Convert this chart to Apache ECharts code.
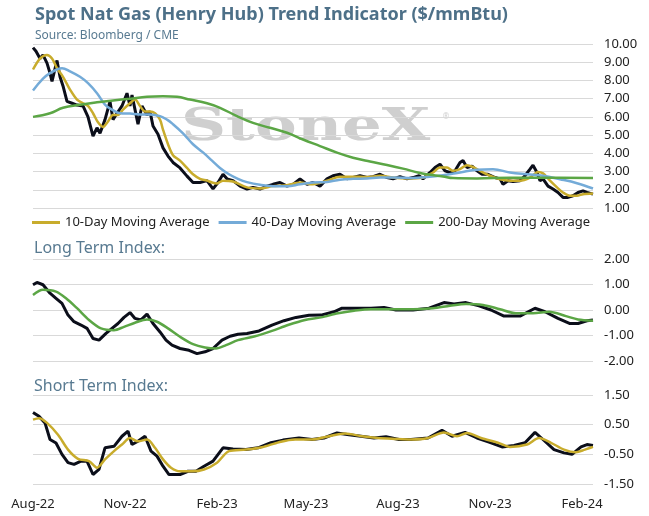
<!DOCTYPE html>
<html>
<head>
<meta charset="utf-8">
<title>Spot Nat Gas Trend Indicator</title>
<script src="https://cdn.jsdelivr.net/npm/echarts@6.0.0/dist/echarts.min.js"></script>
<style>
  html, body { margin: 0; padding: 0; background: #fff; }
  #chart { width: 649px; height: 516px; }
</style>
</head>
<body>
<div id="chart"></div>
<script>
// Day offsets are counted from 1 Aug 2022.
const START = new Date(2022, 7, 1).getTime();
const DAY = 86400000;
const END_DAY = 560;

const MONTHS = ['Jan', 'Feb', 'Mar', 'Apr', 'May', 'Jun', 'Jul', 'Aug', 'Sep', 'Oct', 'Nov', 'Dec'];
const xTickDates = [[2022, 7], [2022, 10], [2023, 1], [2023, 4], [2023, 7], [2023, 10], [2024, 1]];

// --- Top panel: spot price and moving averages ($/mmBtu)
const spotDays = [0, 3, 7, 10, 14, 17, 19, 24, 27, 30, 34, 39, 44, 50, 55, 60, 64, 67, 72, 77, 80, 84, 89, 94, 97, 99,
  102, 105, 109, 114, 117, 120, 125, 130, 135, 140, 147, 154, 160, 167, 174, 180, 185, 190, 194, 200, 207, 214, 220,
  227, 234, 240, 247, 254, 260, 267, 274, 280, 287, 294, 300, 307, 314, 320, 327, 334, 340, 347, 354, 360, 367, 374,
  380, 386, 390, 397, 402, 407, 412, 417, 422, 427, 430, 434, 439, 444, 449, 455, 462, 467, 470, 475, 480, 487, 492,
  497, 500, 504, 507, 510, 515, 520, 525, 530, 535, 540, 545, 550, 554, 560];
const spotVals = [9.8, 9.6, 9.2, 9.4, 8.95, 8.4, 7.95, 9.1, 8.2, 7.7, 6.85, 6.75, 6.65, 6.6, 6.0, 4.95, 5.4, 5.1, 5.85,
  6.85, 5.85, 6.2, 6.6, 7.3, 6.6, 7.2, 6.4, 5.6, 6.6, 6.1, 6.3, 5.5, 5.05, 4.3, 3.85, 3.5, 3.2, 2.75, 2.4, 2.4, 2.5,
  2.05, 2.4, 2.85, 2.6, 2.5, 2.2, 2.04, 2.13, 2.04, 2.2, 2.3, 2.4, 2.2, 2.3, 2.6, 2.3, 2.4, 2.2, 2.6, 2.77, 2.85, 2.6,
  2.67, 2.77, 2.67, 2.72, 2.85, 2.67, 2.6, 2.72, 2.6, 2.67, 2.77, 2.6, 2.95, 3.22, 3.4, 3.04, 2.95, 3.04, 3.5, 3.6,
  3.22, 3.3, 3.04, 2.85, 2.85, 2.67, 2.6, 2.3, 2.5, 2.45, 2.5, 2.77, 3.13, 3.35, 2.95, 2.5, 2.6, 2.2, 2.04, 1.85, 1.58,
  1.58, 1.67, 1.85, 1.94, 1.85, 1.76];

const ma10Days = [0, 7, 14, 19, 24, 30, 37, 44, 50, 55, 60, 65, 70, 75, 80, 85, 90, 97, 102, 107, 112, 117, 122, 127,
  130, 135, 140, 147, 154, 160, 167, 174, 179, 184, 190, 200, 214, 227, 240, 254, 267, 280, 294, 307, 320, 334, 347,
  360, 374, 390, 400, 407, 414, 420, 427, 434, 440, 447, 457, 467, 477, 487, 497, 505, 510, 517, 524, 530, 537, 544,
  550, 560];
const ma10Vals = [8.6, 9.2, 9.4, 9.2, 8.67, 8.2, 7.5, 6.95, 6.75, 6.6, 6.2, 5.7, 5.45, 5.75, 6.1, 6.1, 6.4, 6.75, 6.95,
  6.6, 6.3, 6.3, 6.2, 5.85, 5.3, 4.5, 3.9, 3.6, 3.2, 2.85, 2.6, 2.5, 2.4, 2.35, 2.5, 2.45, 2.13, 2.07, 2.2, 2.25, 2.4,
  2.3, 2.5, 2.72, 2.72, 2.7, 2.77, 2.67, 2.62, 2.67, 2.95, 3.22, 3.22, 3.04, 3.13, 3.35, 3.25, 3.04, 2.77, 2.58, 2.5,
  2.5, 2.67, 2.98, 2.9, 2.5, 2.13, 1.85, 1.67, 1.67, 1.76, 1.8];

const ma40Days = [0, 10, 17, 24, 29, 37, 47, 55, 64, 72, 79, 87, 97, 107, 117, 127, 134, 140, 150, 160, 170, 179, 187,
  196, 205, 214, 227, 240, 254, 267, 280, 294, 307, 320, 334, 347, 360, 380, 394, 410, 427, 444, 460, 477, 494, 510,
  527, 544, 560];
const ma40Vals = [7.45, 8.1, 8.4, 8.6, 8.67, 8.5, 8.2, 7.85, 7.3, 6.67, 6.4, 6.2, 6.18, 6.13, 6.13, 6.04, 5.85, 5.6,
  5.1, 4.5, 4.05, 3.6, 3.2, 2.85, 2.6, 2.42, 2.27, 2.2, 2.2, 2.3, 2.4, 2.43, 2.55, 2.6, 2.62, 2.67, 2.67, 2.65, 2.7,
  2.8, 2.95, 3.1, 3.13, 2.95, 2.85, 2.77, 2.58, 2.36, 2.07];

const ma200Days = [0, 17, 30, 47, 64, 80, 97, 114, 130, 144, 157, 174, 187, 204, 220, 237, 254, 270, 287, 304, 320, 337,
  354, 370, 386, 394, 410, 420, 444, 477, 510, 560];
const ma200Vals = [6.0, 6.2, 6.5, 6.67, 6.8, 6.9, 7.0, 7.1, 7.13, 7.1, 6.95, 6.75, 6.5, 6.04, 5.67, 5.4, 5.13, 4.76,
  4.4, 4.04, 3.76, 3.55, 3.36, 3.16, 2.93, 2.85, 2.73, 2.64, 2.62, 2.66, 2.66, 2.64];

// --- Middle panel: long term index
const ltDays = [0, 4, 10, 17, 23, 29, 35, 41, 48, 54, 60, 66, 73, 79, 85, 91, 97, 102, 108, 114, 120, 127, 133, 139,
  147, 156, 164, 172, 180, 189, 197, 205, 214, 226, 239, 251, 263, 276, 288, 301, 309, 321, 338, 351, 363, 380, 396,
  411, 421, 433, 446, 458, 471, 487, 502, 512, 525, 537, 545, 554, 560];
const ltVals = [0.99, 1.08, 0.99, 0.66, 0.46, 0.26, -0.2, -0.46, -0.59, -0.72, -1.12, -1.18, -0.92, -0.72, -0.53,
  -0.29, -0.1, -0.33, -0.39, -0.16, -0.53, -0.86, -1.18, -1.38, -1.51, -1.58, -1.71, -1.64, -1.51, -1.18, -1.03, -0.95,
  -0.92, -0.82, -0.59, -0.42, -0.29, -0.21, -0.2, -0.07, 0.07, 0.07, 0.07, 0.1, 0, 0, 0.07, 0.29, 0.24, 0.29, 0.16, 0,
  -0.24, -0.24, 0.07, -0.07, -0.33, -0.53, -0.53, -0.42, -0.39];
const ltAvgDays = [0, 10, 23, 33, 44, 56, 68, 81, 91, 102, 114, 124, 135, 147, 160, 172, 183, 193, 205, 222, 239, 255,
  272, 288, 305, 321, 338, 359, 380, 400, 417, 433, 450, 467, 483, 500, 516, 533, 545, 560];
const ltAvgVals = [0.59, 0.79, 0.72, 0.46, 0.07, -0.39, -0.72, -0.79, -0.66, -0.5, -0.37, -0.46, -0.72, -1.05, -1.34,
  -1.47, -1.51, -1.38, -1.18, -1.03, -0.82, -0.59, -0.39, -0.29, -0.13, -0.03, 0.03, 0.03, 0.03, 0.07, 0.17, 0.24, 0.2,
  0.03, -0.13, -0.13, -0.07, -0.24, -0.37, -0.42];

// --- Bottom panel: short term index
const stDays = [0, 6, 12, 17, 23, 29, 35, 41, 48, 54, 60, 66, 72, 81, 89, 95, 99, 105, 112, 118, 124, 130, 136, 147,
  155, 163, 171, 180, 190, 200, 213, 225, 238, 250, 266, 279, 291, 304, 316, 328, 341, 353, 366, 378, 395, 409, 419,
  432, 444, 456, 469, 481, 492, 502, 510, 521, 531, 539, 548, 554, 560];
const stVals = [0.91, 0.78, 0.56, 0.0, -0.12, -0.5, -0.78, -0.84, -0.73, -0.73, -1.18, -1.01, -0.28, -0.23, 0.11, 0.28,
  -0.17, -0.06, 0.11, -0.39, -0.56, -0.9, -1.18, -1.18, -1.07, -1.07, -0.9, -0.73, -0.28, -0.32, -0.34, -0.28, -0.11,
  -0.02, 0.05, 0.0, 0.05, 0.22, 0.16, 0.11, 0.05, 0.09, 0.0, 0.0, 0.05, 0.31, 0.11, 0.24, 0.05, -0.09, -0.25, -0.2,
  -0.11, 0.24, 0.0, -0.34, -0.45, -0.5, -0.25, -0.17, -0.2];
const stAvgDays = [0, 6, 14, 25, 35, 45, 56, 64, 72, 81, 89, 97, 105, 114, 122, 130, 138, 147, 159, 171, 184, 196, 213,
  229, 246, 262, 279, 296, 312, 329, 345, 362, 378, 395, 411, 424, 434, 448, 465, 477, 494, 506, 518, 531, 543, 552,
  560];
const stAvgVals = [0.67, 0.72, 0.56, 0.16, -0.34, -0.65, -0.73, -0.95, -0.67, -0.39, -0.17, 0.05, -0.06, 0.0, -0.28,
  -0.67, -0.95, -1.07, -1.07, -1.01, -0.78, -0.39, -0.34, -0.26, -0.09, 0.0, 0.0, 0.11, 0.2, 0.11, 0.05, 0.02, 0.0,
  0.05, 0.24, 0.11, 0.22, 0.05, -0.11, -0.25, -0.17, 0.05, -0.11, -0.34, -0.43, -0.34, -0.25];

const FONT = 'Noto Sans';
const BLACK = '#0b0e1a';
const GOLD = '#c8ac2c';
const BLUE = '#74abd8';
const GREEN = '#5ba645';

function pairs(days, vals) {
  return days.map((d, i) => [START + d * DAY, vals[i]]);
}

function fmtMonth(v) {
  const dt = new Date(v);
  return MONTHS[dt.getMonth()] + '-' + String(dt.getFullYear()).slice(2);
}

// Plain value axis holding timestamps, so the quarter labels can start in August
function xAxisFor(gridIndex, withLabels) {
  return {
    type: 'value',
    gridIndex: gridIndex,
    min: START,
    max: START + END_DAY * DAY,
    axisLine: { show: false },
    axisTick: { show: false },
    splitLine: { show: false },
    axisLabel: withLabels ? {
      show: true,
      customValues: xTickDates.map(m => new Date(m[0], m[1], 1).getTime()),
      formatter: fmtMonth,
      fontFamily: FONT,
      fontSize: 13,
      color: '#222',
      margin: 14
    } : { show: false }
  };
}

function yAxisFor(gridIndex, min, max) {
  return {
    type: 'value',
    gridIndex: gridIndex,
    position: 'right',
    min: min,
    max: max,
    interval: 1,
    axisLine: { show: false },
    axisTick: { show: false },
    splitLine: { lineStyle: { color: '#d9d9d9', width: 1 } },
    axisLabel: {
      formatter: v => v.toFixed(2),
      fontFamily: FONT,
      fontSize: 13,
      color: '#222',
      margin: 11
    }
  };
}

function line(name, data, color, width, xi, smooth) {
  return {
    name: name,
    type: 'line',
    xAxisIndex: xi,
    yAxisIndex: xi,
    data: data,
    showSymbol: false,
    smooth: smooth,
    lineStyle: { color: color, width: width },
    itemStyle: { color: color },
    emphasis: { disabled: true },
    z: 3
  };
}

const chart = echarts.init(document.getElementById('chart'));

const option = {
  animation: false,
  title: [
    {
      text: 'Spot Nat Gas (Henry Hub) Trend Indicator ($/mmBtu)',
      subtext: 'Source: Bloomberg / CME',
      left: 30,
      top: 1,
      itemGap: 6,
      textStyle: { fontFamily: FONT, fontSize: 18, fontWeight: 'bold', color: '#4d7088' },
      subtextStyle: { fontFamily: FONT, fontSize: 12, color: '#587a91' }
    },
    {
      text: 'Long Term Index:',
      left: 29,
      top: 235,
      textStyle: { fontFamily: FONT, fontSize: 16, fontWeight: 'normal', color: '#587a91' }
    },
    {
      text: 'Short Term Index:',
      left: 29,
      top: 373,
      textStyle: { fontFamily: FONT, fontSize: 16, fontWeight: 'normal', color: '#587a91' }
    }
  ],
  legend: {
    data: ['10-Day Moving Average', '40-Day Moving Average', '200-Day Moving Average'],
    left: 27,
    top: 211,
    icon: 'rect',
    itemWidth: 28,
    itemHeight: 3,
    itemGap: 9,
    textStyle: { fontFamily: FONT, fontSize: 13, color: '#222' }
  },
  graphic: [
    {
      type: 'text',
      left: 181,
      top: 107,
      z: 0,
      silent: true,
      scaleX: 1.42,
      style: {
        text: 'StoneX',
        fontFamily: 'DejaVu Serif',
        fontWeight: 'bold',
        fontSize: 44,
        fill: '#cfcfcf'
      }
    },
    {
      type: 'text',
      left: 442,
      top: 113,
      z: 0,
      silent: true,
      style: { text: '®', fontFamily: 'DejaVu Sans', fontSize: 8, fill: '#cfcfcf' }
    }
  ],
  grid: [
    { left: 33, right: 56, top: 44, height: 164 },
    { left: 33, right: 56, top: 259, height: 102 },
    { left: 33, right: 56, top: 395, height: 89 }
  ],
  xAxis: [xAxisFor(0, false), xAxisFor(1, false), xAxisFor(2, true)],
  yAxis: [yAxisFor(0, 1, 10), yAxisFor(1, -2, 2), yAxisFor(2, -1.5, 1.5)],
  series: [
    line('Spot', pairs(spotDays, spotVals), BLACK, 3, 0, false),
    line('10-Day Moving Average', pairs(ma10Days, ma10Vals), GOLD, 2.5, 0, 0.3),
    line('40-Day Moving Average', pairs(ma40Days, ma40Vals), BLUE, 2.5, 0, 0.4),
    line('200-Day Moving Average', pairs(ma200Days, ma200Vals), GREEN, 2.5, 0, 0.4),
    line('Long Term Index', pairs(ltDays, ltVals), BLACK, 3, 1, false),
    line('Long Term Average', pairs(ltAvgDays, ltAvgVals), GREEN, 2.5, 1, 0.3),
    line('Short Term Index', pairs(stDays, stVals), BLACK, 3, 2, false),
    line('Short Term Average', pairs(stAvgDays, stAvgVals), GOLD, 2.5, 2, 0.3)
  ]
};

chart.setOption(option);
</script>
</body>
</html>
